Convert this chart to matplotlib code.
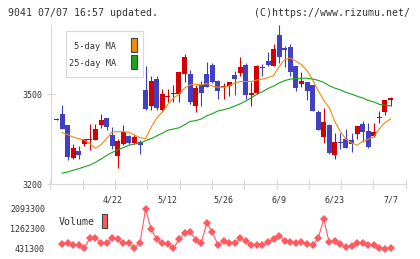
import numpy as np
import matplotlib
matplotlib.use("Agg")
import matplotlib.pyplot as plt
from matplotlib.patches import Rectangle

plt.rcParams['font.family'] = 'DejaVu Sans Mono'

# --- data (index 0 = first candle on the left) ---
opens = [3417, 3434, 3398, 3289, 3311, 3333, 3348, 3348, 3398, 3421,
         3364, 3294, 3334, 3361, 3339, 3341, 3514, 3459, 3551, 3448,
         3491, 3501, 3501, 3567, 3567, 3459, 3531, 3568, 3598, 3544,
         3525, 3528, 3564, 3570, 3598, 3498, 3503, 3591, 3611, 3595,
         3698, 3653, 3657, 3592, 3534, 3542, 3529, 3440, 3359, 3398,
         3299, 3340, 3351, 3348, 3369, 3401, 3378, 3361, 3422, 3439,
         3481]
highs = [3419, 3464, 3398, 3333, 3328, 3351, 3400, 3401, 3434, 3421,
         3392, 3350, 3398, 3364, 3364, 3348, 3595, 3561, 3561, 3518,
         3518, 3529, 3572, 3633, 3581, 3531, 3544, 3607, 3605, 3548,
         3538, 3541, 3578, 3625, 3603, 3539, 3598, 3600, 3640, 3668,
         3730, 3661, 3668, 3592, 3573, 3542, 3529, 3448, 3454, 3401,
         3370, 3370, 3384, 3370, 3394, 3411, 3403, 3404, 3444, 3481,
         3492]
lows = [3415, 3385, 3281, 3283, 3283, 3328, 3314, 3348, 3387, 3381,
        3317, 3255, 3331, 3335, 3333, 3301, 3448, 3448, 3448, 3441,
        3474, 3475, 3475, 3539, 3468, 3439, 3462, 3525, 3537, 3484,
        3484, 3495, 3498, 3559, 3484, 3462, 3500, 3559, 3592, 3592,
        3605, 3589, 3559, 3509, 3525, 3479, 3445, 3379, 3339, 3301,
        3283, 3319, 3322, 3309, 3352, 3342, 3322, 3359, 3405, 3431,
        3459]
closes = [3417, 3385, 3292, 3322, 3298, 3351, 3348, 3384, 3414, 3392,
          3328, 3345, 3374, 3339, 3358, 3331, 3451, 3544, 3455, 3501,
          3491, 3501, 3572, 3625, 3475, 3520, 3505, 3525, 3542, 3512,
          3525, 3541, 3551, 3590, 3498, 3505, 3592, 3589, 3598, 3651,
          3622, 3648, 3573, 3522, 3544, 3512, 3445, 3381, 3408, 3305,
          3341, 3338, 3322, 3335, 3394, 3374, 3325, 3374, 3422, 3481,
          3488]
ma5 = [np.nan, 3372, 3365, 3357, 3352, 3347, 3335, 3320, 3332, 3352,
       3374, 3375, 3375, 3373, 3364, 3355, 3352, 3390, 3420, 3440,
       3466, 3487, 3499, 3520, 3531, 3533, 3531, 3535, 3527, 3523,
       3523, 3527, 3537, 3542, 3542, 3542, 3547, 3550, 3555, 3562,
       3592, 3615, 3620, 3610, 3598, 3578, 3548, 3512, 3480, 3455,
       3409, 3375, 3350, 3338, 3330, 3343, 3350, 3358, 3385, 3405,
       3417]
ma25 = [np.nan, 3237, 3241, 3247, 3252, 3258, 3264, 3273, 3284, 3296,
        3306, 3315, 3322, 3330, 3334, 3337, 3345, 3352, 3361, 3370,
        3380, 3384, 3388, 3398, 3409, 3412, 3417, 3428, 3435, 3444,
        3448, 3453, 3460, 3468, 3477, 3488, 3500, 3508, 3519, 3527,
        3537, 3545, 3550, 3552, 3553, 3553, 3550, 3546, 3539, 3528,
        3520, 3514, 3506, 3500, 3493, 3487, 3479, 3474, 3466, 3463,
        3461]
volume = [np.nan, 639000, 667000, 597000, 597000, 459000, 902000, 874000, 694000, 667000,
          902000, 833000, 667000, 667000, 487000, 694000, 2093300, 1248000, 833000, 667000,
          625000, 459000, 833000, 1082000, 1152000, 805000, 694000, 1511000, 1124000, 597000,
          777000, 667000, 667000, 874000, 764000, 597000, 597000, 597000, 708000, 847000,
          985000, 764000, 708000, 694000, 708000, 639000, 597000, 874000, 1664000, 708000,
          764000, 639000, 500000, 556000, 667000, 667000, 597000, 597000, 459000, 431300,
          459000]
date_pos = [10, 20, 30, 40, 50, 60]
date_labels = ['4/22', '5/12', '5/26', '6/9', '6/23', '7/7']
price_ticks = [3200, 3500]

W, H = 420, 259
RED = '#d40000'
BLUE = '#4040c0'
ORANGE = '#f58a0a'
GREEN = '#1aa51a'
VOLC = '#ff5a60'
GRID = '#d8d8d8'
TXT = '#333333'

o = np.array(opens, float)
h = np.array(highs, float)
l = np.array(lows, float)
c = np.array(closes, float)
x = np.arange(len(o))

fig = plt.figure(figsize=(W / 100, H / 100), dpi=100)

# main price panel
ax = fig.add_axes([50.5 / W, (H - 184.3) / H, 355.2 / W, 159.3 / H])
xlim = (-1.08, 62.73)
ax.set_xlim(*xlim)
ax.set_ylim(3200, h.max())

up = c >= o
cols = np.where(up, RED, BLUE)
ax.vlines(x, l, h, colors=cols, lw=0.8, zorder=3)
bh = np.maximum(np.abs(c - o), 3.0)
mid = (o + c) / 2
ax.bar(x, bh, bottom=mid - bh / 2, width=0.9, color=cols, linewidth=0, zorder=4)

ax.plot(x, ma5, color=ORANGE, lw=0.8, zorder=5)
ax.plot(x, ma25, color=GREEN, lw=0.8, zorder=5)

for s in ['top', 'right']:
    ax.spines[s].set_visible(False)
for s in ['left', 'bottom']:
    ax.spines[s].set_color(GRID)
    ax.spines[s].set_linewidth(0.8)

ax.set_yticks(price_ticks)
ax.set_yticklabels([str(t) for t in price_ticks])
ax.tick_params(axis='y', direction='inout', length=6, width=0.8, color=GRID,
               labelsize=6, labelcolor=TXT, pad=3)
ax.set_xticks(date_pos)
ax.set_xticklabels(date_labels)
ax.tick_params(axis='x', which='major', length=0, labelsize=6, labelcolor=TXT, pad=8)
ax.set_xticks(np.linspace(xlim[0], xlim[1], 12), minor=True)
ax.tick_params(axis='x', which='minor', direction='inout', length=7, width=0.8, color=GRID)

# volume panel
axv = fig.add_axes([50.5 / W, (H - 253) / H, 355.2 / W, 48 / H])
v = np.array(volume, float)
vmin, vmax = np.nanmin(v), np.nanmax(v)
span = vmax - vmin
axv.set_xlim(*xlim)
axv.set_ylim(vmin - span * 0.1, vmax + span * 0.1)
axv.plot(x, v, color=VOLC, lw=0.8, marker='D', ms=4.2, mew=0)
vt = [vmin, (vmin + vmax) / 2, vmax]
axv.set_yticks(vt)
axv.set_yticklabels([str(int(t)) for t in vt])
axv.set_xticks([])
axv.tick_params(axis='y', length=0, labelsize=6, labelcolor=TXT, pad=4)
for s in axv.spines.values():
    s.set_visible(False)
axv.patch.set_alpha(0)


def px_text(px, py, s, **kw):
    fig.text(px / W, 1 - py / H, s, va='center', color=TXT, **kw)


def px_rect(x0, y0, x1, y1, **kw):
    fig.add_artist(Rectangle((x0 / W, 1 - y1 / H), (x1 - x0) / W, (y1 - y0) / H,
                             transform=fig.transFigure, **kw))


# header texts
px_text(8, 12.5, '9041 07/07 16:57 updated.', ha='left', fontsize=7.1)
px_text(410, 12.5, '(C)https://www.rizumu.net/', ha='right', fontsize=7.1)

# legend box
px_rect(65.7, 30.7, 143.3, 77.3, facecolor='white', edgecolor=GRID, lw=0.8, zorder=6)
px_text(116, 46.5, '5-day MA', ha='right', fontsize=6.2, zorder=7)
px_text(116, 63, '25-day MA', ha='right', fontsize=6.2, zorder=7)
px_rect(131, 37.5, 137, 52, facecolor=ORANGE, edgecolor='#444444', lw=0.8, zorder=7)
px_rect(131, 55, 137, 68.5, facecolor=GREEN, edgecolor='#444444', lw=0.8, zorder=7)

# volume legend
px_text(58.5, 222, 'Volume', ha='left', fontsize=7.1)
px_rect(101.5, 213.5, 107.5, 228, facecolor=VOLC, edgecolor='#444444', lw=0.8)

fig.savefig('out.png', dpi=100)
